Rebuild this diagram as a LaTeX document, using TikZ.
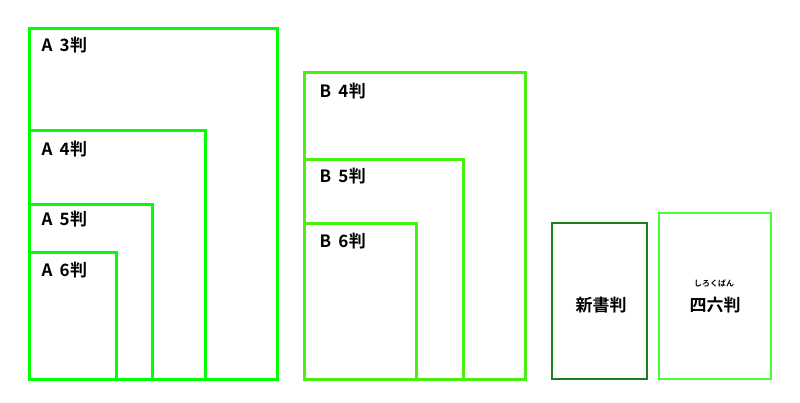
\documentclass[tikz,border=0pt]{standalone}
\usepackage{fontspec}
\setmainfont{Noto Sans CJK JP}[BoldFont={Noto Sans CJK JP Bold}]
\definecolor{agreen}{RGB}{0,255,0}
\definecolor{bgreen}{RGB}{72,240,16}
\definecolor{sgreen}{RGB}{26,128,26}
\definecolor{rgreen}{RGB}{68,255,50}
\newcommand{\lab}[2]{#1\hspace{7pt}#2\hspace{0.5pt}判}
\tikzset{
  sheet/.style={draw, line width=3pt},
  lbl/.style={anchor=base west, inner sep=0pt, font=\bfseries\fontsize{17}{17}\selectfont},
  clbl/.style={anchor=base, inner sep=0pt, font=\bfseries\fontsize{17}{17}\selectfont},
}
\begin{document}
\begin{tikzpicture}[x=1pt,y=-1pt]
\useasboundingbox (0,0) rectangle (800,402);
% A series
\draw[sheet, agreen] (29,28) rectangle (277,379);
\draw[sheet, agreen] (29,130) rectangle (205,379);
\draw[sheet, agreen] (29,204) rectangle (152,379);
\draw[sheet, agreen] (29,252) rectangle (116,379);
\node[lbl] (a3) at (41.5,51) {\lab{A}{3}};
\node[lbl] (a4) at (41.5,155) {\lab{A}{4}};
\node[lbl] (a5) at (41.5,225) {\lab{A}{5}};
\node[lbl] (a6) at (41.5,276) {\lab{A}{6}};
% B series
\draw[sheet, bgreen] (304,72) rectangle (525,379);
\draw[sheet, bgreen] (304,159) rectangle (463,379);
\draw[sheet, bgreen] (304,223) rectangle (416,379);
\node[lbl] (b4) at (319.5,97) {\lab{B}{4}};
\node[lbl] (b5) at (319.5,182) {\lab{B}{5}};
\node[lbl] (b6) at (319.5,247) {\lab{B}{6}};
% shinsho
\draw[sheet, sgreen, line width=2.5pt] (552,223) rectangle (647,379);
\node[clbl] (shin) at (601,311) {新書判};
% shiroku
\draw[sheet, rgreen, line width=2.5pt] (659,213) rectangle (771,379);
\node[clbl] (shiro) at (715,311) {四六判};
\node[anchor=base, inner sep=0pt, font=\bfseries\fontsize{8}{8}\selectfont] (ruby) at (714,286) {しろくばん};
\end{tikzpicture}
\end{document}
